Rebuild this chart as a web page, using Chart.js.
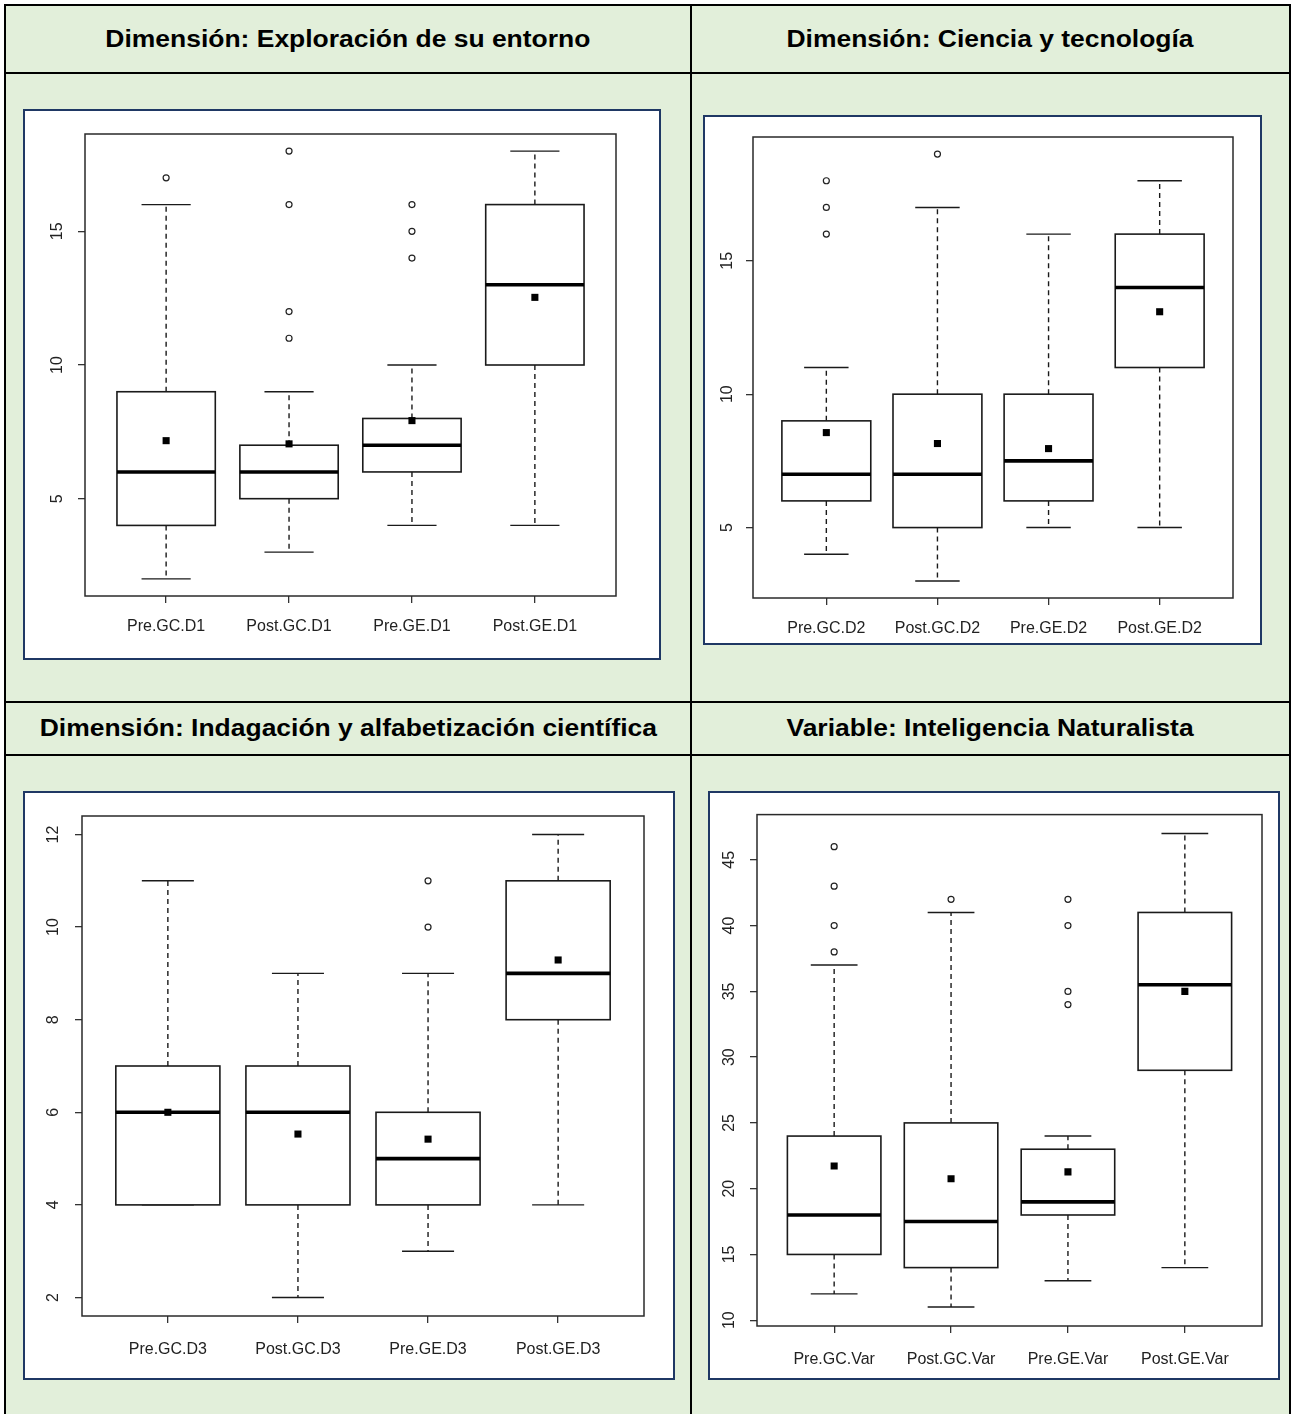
<!DOCTYPE html>
<html>
<head>
<meta charset="utf-8">
<script src="https://cdn.jsdelivr.net/npm/chart.js@4.4.1/dist/chart.umd.min.js"></script>
<style>
  body { margin: 0; background: #fff; width: 1291px; height: 1414px; overflow: hidden; position: relative;
         font-family: "Liberation Sans", Arial, sans-serif; }
  .sheet { position: absolute; left: 4px; top: 4px; width: 1287px; height: 1440px; background: #e2efda;
           border: 2px solid #000; box-sizing: border-box; }
  .rule { position: absolute; background: #000; }
  .head { position: absolute; text-align: center; white-space: nowrap; }
  .head span { display: inline-block; font-weight: bold; font-size: 23px; color: #000; transform: scaleX(1.15); }
  .panel { position: absolute; background: #fff; border: 2px solid #1f3864; box-sizing: border-box; }
  .panel canvas { display: block; }
</style>
</head>
<body>
<div class="sheet"></div>
<div class="rule" style="left:690px; top:4px; width:2px; height:1440px;"></div>
<div class="rule" style="left:4px; top:72px; width:1287px; height:2px;"></div>
<div class="rule" style="left:4px; top:701px; width:1287px; height:2px;"></div>
<div class="rule" style="left:4px; top:754px; width:1287px; height:2px;"></div>

<div class="head" style="left:6px; width:684px; top:6px; height:66px; line-height:66px;"><span>Dimensión: Exploración de su entorno</span></div>
<div class="head" style="left:692px; width:597px; top:6px; height:66px; line-height:66px;"><span>Dimensión: Ciencia y tecnología</span></div>
<div class="head" style="left:6px; width:684px; top:703px; height:51px; line-height:51px;"><span>Dimensión: Indagación y alfabetización científica</span></div>
<div class="head" style="left:692px; width:597px; top:703px; height:51px; line-height:51px;"><span>Variable: Inteligencia Naturalista</span></div>

<div class="panel" style="left:23px; top:109px; width:638px; height:551px;"><canvas id="chartD1" width="634" height="547"></canvas></div>
<div class="panel" style="left:703px; top:115px; width:559px; height:530px;"><canvas id="chartD2" width="555" height="526"></canvas></div>
<div class="panel" style="left:23px; top:791px; width:652px; height:589px;"><canvas id="chartD3" width="648" height="585"></canvas></div>
<div class="panel" style="left:708px; top:791px; width:572px; height:589px;"><canvas id="chartVar" width="568" height="585"></canvas></div>

<script>
// Exploración de su entorno
const d1Labels = ['Pre.GC.D1', 'Post.GC.D1', 'Pre.GE.D1', 'Post.GE.D1'];
const d1Low = [2, 3, 4, 4];
const d1Q1 = [4, 5, 6, 10];
const d1Median = [6, 6, 7, 13];
const d1Q3 = [9, 7, 8, 16];
const d1High = [16, 9, 10, 18];
const d1Mean = [7.17, 7.05, 7.92, 12.53];
const d1Outliers = [[17], [11, 12, 16, 18], [14, 15, 16], []];
const d1Ticks = [5, 10, 15];

// Ciencia y tecnología
const d2Labels = ['Pre.GC.D2', 'Post.GC.D2', 'Pre.GE.D2', 'Post.GE.D2'];
const d2Low = [4, 3, 5, 5];
const d2Q1 = [6, 5, 6, 11];
const d2Median = [7, 7, 7.5, 14];
const d2Q3 = [9, 10, 10, 16];
const d2High = [11, 17, 16, 18];
const d2Mean = [8.56, 8.15, 7.96, 13.09];
const d2Outliers = [[16, 17, 18], [19], [], []];
const d2Ticks = [5, 10, 15];

// Indagación y alfabetización científica
const d3Labels = ['Pre.GC.D3', 'Post.GC.D3', 'Pre.GE.D3', 'Post.GE.D3'];
const d3Low = [4, 2, 3, 4];
const d3Q1 = [4, 4, 4, 8];
const d3Median = [6, 6, 5, 9];
const d3Q3 = [7, 7, 6, 11];
const d3High = [11, 9, 9, 12];
const d3Mean = [6, 5.53, 5.42, 9.29];
const d3Outliers = [[], [], [10, 11], []];
const d3Ticks = [2, 4, 6, 8, 10, 12];

// Inteligencia Naturalista
const varLabels = ['Pre.GC.Var', 'Post.GC.Var', 'Pre.GE.Var', 'Post.GE.Var'];
const varLow = [12, 11, 13, 14];
const varQ1 = [15, 14, 18, 29];
const varMedian = [18, 17.5, 19, 35.5];
const varQ3 = [24, 25, 23, 41];
const varHigh = [37, 41, 24, 47];
const varMean = [21.73, 20.75, 21.28, 35];
const varOutliers = [[38, 40, 43, 46], [42], [34, 35, 40, 42], []];
const varTicks = [10, 15, 20, 25, 30, 35, 40, 45];

const FONT = '"Liberation Sans", Arial, sans-serif';
const INK = '#1a1a1a';

function makeBoxPlugin(s) {
    return {
        id: 'boxplot',
        beforeDatasetsDraw(chart) {
            const ctx = chart.ctx;
            const area = chart.chartArea;
            const x = chart.scales.x;
            const y = chart.scales.y;
            const seg = (x1, y1, x2, y2) => {
                ctx.beginPath();
                ctx.moveTo(x1, y1);
                ctx.lineTo(x2, y2);
                ctx.stroke();
            };
            ctx.save();
            ctx.strokeStyle = INK;
            s.q1.forEach((q1, i) => {
                const cx = x.getPixelForValue(i + 1);
                const halfBox = x.getPixelForValue(i + 1.4) - cx;
                const halfStaple = halfBox / 2;
                const yLow = y.getPixelForValue(s.low[i]);
                const yQ1 = y.getPixelForValue(q1);
                const yMed = y.getPixelForValue(s.median[i]);
                const yQ3 = y.getPixelForValue(s.q3[i]);
                const yHigh = y.getPixelForValue(s.high[i]);

                // whiskers (dashed) and staples
                ctx.lineWidth = 1.4;
                ctx.setLineDash([5, 4]);
                seg(cx, yQ3, cx, yHigh);
                seg(cx, yQ1, cx, yLow);
                ctx.setLineDash([]);
                seg(cx - halfStaple, yHigh, cx + halfStaple, yHigh);
                seg(cx - halfStaple, yLow, cx + halfStaple, yLow);

                ctx.fillStyle = '#fff';
                ctx.fillRect(cx - halfBox, yQ3, halfBox * 2, yQ1 - yQ3);
                ctx.lineWidth = 1.6;
                ctx.strokeRect(cx - halfBox, yQ3, halfBox * 2, yQ1 - yQ3);

                ctx.lineWidth = 3.6;
                ctx.strokeStyle = '#000';
                seg(cx - halfBox, yMed, cx + halfBox, yMed);
                ctx.strokeStyle = INK;
            });
            ctx.lineWidth = 1.5;
            ctx.strokeStyle = '#2a2a2a';
            ctx.strokeRect(area.left, area.top, area.right - area.left, area.bottom - area.top);
            ctx.restore();
        }
    };
}

function drawBoxChart(id, labels, stats, ticks, pad) {
    const all = [...stats.low, ...stats.high, ...stats.outliers.flat()];
    const lo = Math.min(...all);
    const hi = Math.max(...all);
    const ext = (hi - lo) * 0.04;

    const outlierPoints = [];
    stats.outliers.forEach((list, i) => list.forEach(v => outlierPoints.push({ x: i + 1, y: v })));
    const meanPoints = stats.mean.map((v, i) => ({ x: i + 1, y: v }));

    return new Chart(document.getElementById(id), {
        type: 'scatter',
        data: {
            datasets: [
                {
                    data: outlierPoints,
                    pointStyle: 'circle',
                    pointRadius: 3,
                    borderWidth: 1.2,
                    borderColor: '#222',
                    backgroundColor: '#fff'
                },
                {
                    data: meanPoints,
                    pointStyle: 'rect',
                    pointRadius: 5,
                    borderWidth: 0,
                    backgroundColor: '#000'
                }
            ]
        },
        options: {
            responsive: false,
            animation: false,
            devicePixelRatio: 1,
            layout: {
                autoPadding: false,
                padding: { left: 0, top: pad.top, right: pad.right, bottom: 0 }
            },
            plugins: {
                legend: { display: false },
                tooltip: { enabled: false }
            },
            scales: {
                x: {
                    type: 'linear',
                    min: 0.34,
                    max: 4.66,
                    afterBuildTicks: (scale) => { scale.ticks = labels.map((_, i) => ({ value: i + 1 })); },
                    afterFit: (scale) => { scale.height = pad.bottom; },
                    ticks: {
                        callback: (value) => labels[value - 1],
                        autoSkip: false,
                        minRotation: 0,
                        maxRotation: 0,
                        padding: pad.xLabel,
                        color: '#222',
                        font: { family: FONT, size: 16 }
                    },
                    grid: { drawOnChartArea: false, tickLength: 7, color: '#333', lineWidth: 1.3 },
                    border: { display: false }
                },
                y: {
                    min: lo - ext,
                    max: hi + ext,
                    afterBuildTicks: (scale) => { scale.ticks = ticks.map(v => ({ value: v })); },
                    afterFit: (scale) => { scale.width = pad.left; },
                    ticks: {
                        minRotation: 90,
                        maxRotation: 90,
                        crossAlign: 'center',
                        padding: pad.yLabel,
                        color: '#222',
                        font: { family: FONT, size: 16 }
                    },
                    grid: { drawOnChartArea: false, tickLength: 7, color: '#333', lineWidth: 1.3 },
                    border: { display: false }
                }
            }
        },
        plugins: [makeBoxPlugin(stats)]
    });
}

drawBoxChart('chartD1', d1Labels,
    { low: d1Low, q1: d1Q1, median: d1Median, q3: d1Q3, high: d1High, mean: d1Mean, outliers: d1Outliers },
    d1Ticks, { left: 60, top: 23, right: 43, bottom: 62, xLabel: 14, yLabel: 12 });

drawBoxChart('chartD2', d2Labels,
    { low: d2Low, q1: d2Q1, median: d2Median, q3: d2Q3, high: d2High, mean: d2Mean, outliers: d2Outliers },
    d2Ticks, { left: 48, top: 20, right: 27, bottom: 45, xLabel: 14, yLabel: 10 });

drawBoxChart('chartD3', d3Labels,
    { low: d3Low, q1: d3Q1, median: d3Median, q3: d3Q3, high: d3High, mean: d3Mean, outliers: d3Outliers },
    d3Ticks, { left: 57, top: 23, right: 29, bottom: 62, xLabel: 17, yLabel: 13 });

drawBoxChart('chartVar', varLabels,
    { low: varLow, q1: varQ1, median: varMedian, q3: varQ3, high: varHigh, mean: varMean, outliers: varOutliers },
    varTicks, { left: 47, top: 17, right: 16, bottom: 52, xLabel: 17, yLabel: 12 });
</script>
</body>
</html>
